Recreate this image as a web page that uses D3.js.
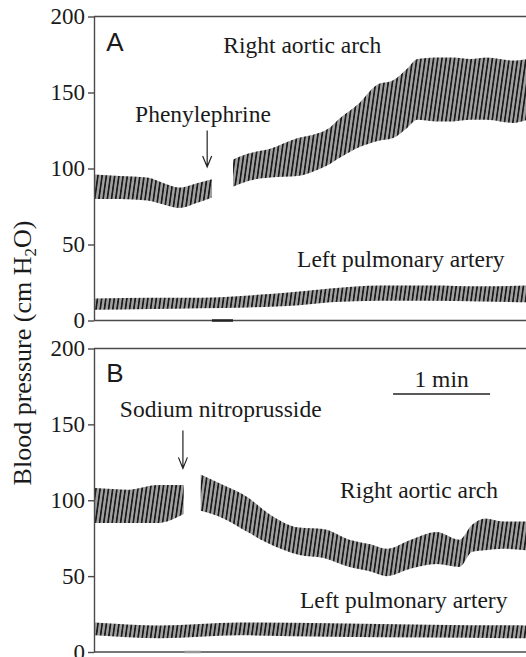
<!DOCTYPE html>
<html>
<head>
<meta charset="utf-8">
<script src="https://cdn.jsdelivr.net/npm/d3@7"></script>
<style>
  body { margin: 0; background: #fff; }
  svg { display: block; }
  svg text { font-family: "Liberation Serif", "Times New Roman", Times, "DejaVu Serif", serif; fill: #1a1a1a; }
</style>
</head>
<body>
<script>
// time in seconds, pressure in cm H2O; hi = systolic peaks, lo = diastolic troughs
var yTicks = [0, 50, 100, 150, 200];

// panel A - phenylephrine
var aArchT1 = [0.5, 16, 33, 44, 53, 62.5, 73];
var aArchHi1 = [96, 95, 94, 90, 87.5, 90, 93];
var aArchLo1 = [80, 80, 79, 76, 74, 77, 81];
var aArchT2 = [86, 96, 109, 126, 138, 146, 152, 164, 175, 185, 194, 200, 211, 222, 233, 243, 251, 259, 268];
var aArchHi2 = [106, 110, 113, 120, 123, 127, 133, 143, 155, 158, 166, 172, 173, 173, 172, 173, 172, 171, 172];
var aArchLo2 = [88, 92, 94, 95, 99, 103, 107, 114, 118, 120, 127, 132, 131, 131, 132, 132, 131, 130, 132];
var aPulmT = [0.5, 35, 66, 96, 127, 146, 177, 208, 239, 268];
var aPulmHi = [14.5, 15, 15, 16.5, 19, 21, 23, 23, 22.5, 23];
var aPulmLo = [7, 7.5, 8, 8.6, 10, 12, 13, 13, 12.5, 12];

// panel B - sodium nitroprusside
var bArchT1 = [0.5, 22, 39, 55.5];
var bArchHi1 = [108, 107, 110, 110];
var bArchLo1 = [85, 85, 85, 91];
var bArchT2 = [66, 80, 95, 107, 127, 142, 158, 171, 181, 196, 212, 226, 234, 242, 253, 268];
var bArchHi2 = [117, 110, 102, 92, 82, 81, 74, 71, 68, 74, 79, 74, 84, 88, 86, 86];
var bArchLo2 = [93, 88, 79, 72, 64, 62, 56, 53, 50, 55, 58, 56, 66, 67, 68, 67];
var bPulmT = [0.5, 41, 90, 146, 208, 268];
var bPulmHi = [19.5, 17.5, 19.5, 19, 18, 17.5];
var bPulmLo = [11, 9, 11, 10, 9.5, 9];

// drug injection: [start, end] of the gap, arrow time, arrow from/to pressure
var injA = [73, 86], arrowA = [70, 125, 101];
var injB = [56, 66], arrowB = [55, 146, 121];

// annotations: [text, time, pressure]
var labelsA = [["Right aortic arch", 80, 176], ["Phenylephrine", 25.4, 130.3], ["Left pulmonary artery", 125.6, 34.9]];
var labelsB = [["Sodium nitroprusside", 16, 154.6], ["Right aortic arch", 152.2, 101.3], ["Left pulmonary artery", 127.4, 29]];
var scaleBar = [185, 245]; // 1 min

var serif = '"Liberation Serif", "Times New Roman", Times, "DejaVu Serif", serif';
var width = 526, height = 657;

var svg = d3.select("body").append("svg")
  .attr("width", width)
  .attr("height", height);

// stripe pattern standing in for the individual heart beats
var pat = svg.append("defs").append("pattern")
  .attr("id", "beats")
  .attr("patternUnits", "userSpaceOnUse")
  .attr("width", 4.2)
  .attr("height", 20)
  .attr("patternTransform", "skewX(-8)");
pat.append("rect").attr("width", 4.2).attr("height", 20).attr("fill", "#a0a0a0");
pat.append("rect").attr("width", 1.7).attr("height", 20).attr("fill", "#1a1a1a");

var x = d3.scaleLinear().domain([0, 270]).range([94, 530.5]);

function zip(t, hi, lo) {
  return t.map(function(d, i) { return {t: d, hi: hi[i], lo: lo[i]}; });
}

function drawPanel(top, bottom, letter, traces, inj, arrow, labels, dark) {
  var y = d3.scaleLinear().domain([0, 200]).range([bottom, top]);
  var g = svg.append("g");

  var area = d3.area()
    .x(function(d) { return x(d.t); })
    .y0(function(d) { return y(d.lo); })
    .y1(function(d) { return y(d.hi); })
    .curve(d3.curveMonotoneX);

  g.selectAll(".trace")
    .data(traces)
    .enter()
    .append("path")
    .attr("class", "trace")
    .attr("d", area)
    .attr("fill", "url(#beats)");

  // frame: top and bottom rules
  g.selectAll(".rule")
    .data([200, 0])
    .enter()
    .append("line")
    .attr("x1", x(0)).attr("x2", width)
    .attr("y1", function(d) { return y(d); })
    .attr("y2", function(d) { return y(d); })
    .attr("stroke", "#4a4a4a")
    .attr("stroke-width", 1.4);

  // injection mark on the baseline
  g.append("line")
    .attr("x1", x(inj[0])).attr("x2", x(inj[1]))
    .attr("y1", y(0)).attr("y2", y(0))
    .attr("stroke", dark ? "#222" : "#999")
    .attr("stroke-width", 2.5);

  var axis = g.append("g")
    .attr("transform", "translate(" + x(0) + ",0)")
    .call(d3.axisLeft(y).tickValues(yTicks).tickSize(6).tickSizeOuter(0).tickPadding(3));
  axis.attr("font-family", serif);
  axis.select(".domain").attr("stroke", "#4a4a4a").attr("stroke-width", 1.4);
  axis.selectAll(".tick line").attr("stroke", "#4a4a4a").attr("stroke-width", 1.4);
  axis.selectAll(".tick text")
    .attr("font-size", 23)
    .style("font-family", serif)
    .attr("fill", "#1a1a1a");

  // arrow
  var ax = x(arrow[0]), ay1 = y(arrow[1]), ay2 = y(arrow[2]);
  g.append("path")
    .attr("d", "M" + ax + "," + ay1 + "V" + ay2 + "M" + (ax - 4.5) + "," + (ay2 - 11) + "L" + ax + "," + ay2 + "L" + (ax + 4.5) + "," + (ay2 - 11))
    .attr("fill", "none")
    .attr("stroke", "#222")
    .attr("stroke-width", 1.2);

  g.selectAll(".note")
    .data(labels)
    .enter()
    .append("text")
    .attr("class", "note")
    .attr("x", function(d) { return x(d[1]); })
    .attr("y", function(d) { return y(d[2]); })
    .attr("font-size", 23.5)
    .style("font-family", serif)
    .text(function(d) { return d[0]; });

  g.append("text")
    .attr("x", x(7.6))
    .attr("y", y(177.6))
    .attr("font-size", 26)
    .style("font-family", '"Liberation Sans", Arial, sans-serif')
    .text(letter);

  return y;
}

drawPanel(16.5, 320.5, "A",
  [zip(aArchT1, aArchHi1, aArchLo1), zip(aArchT2, aArchHi2, aArchLo2), zip(aPulmT, aPulmHi, aPulmLo)],
  injA, arrowA, labelsA, true);

drawPanel(348.5, 652, "B",
  [zip(bArchT1, bArchHi1, bArchLo1), zip(bArchT2, bArchHi2, bArchLo2), zip(bPulmT, bPulmHi, bPulmLo)],
  injB, arrowB, labelsB, false);

// 1 min scale bar
svg.append("line")
  .attr("x1", x(scaleBar[0])).attr("x2", x(scaleBar[1]))
  .attr("y1", 394).attr("y2", 394)
  .attr("stroke", "#222").attr("stroke-width", 1.5);
svg.append("text")
  .attr("x", (x(scaleBar[0]) + x(scaleBar[1])) / 2)
  .attr("y", 387)
  .attr("text-anchor", "middle")
  .attr("font-size", 23.5)
  .style("font-family", serif)
  .text("1 min");

// y axis title
var title = svg.append("text")
  .attr("transform", "translate(31,353) rotate(-90)")
  .attr("text-anchor", "middle")
  .attr("font-size", 26)
  .style("font-family", serif);
title.append("tspan").text("Blood pressure (cm H");
title.append("tspan").attr("font-size", 17).attr("dy", 5).text("2");
title.append("tspan").attr("dy", -5).text("O)");
</script>
</body>
</html>
